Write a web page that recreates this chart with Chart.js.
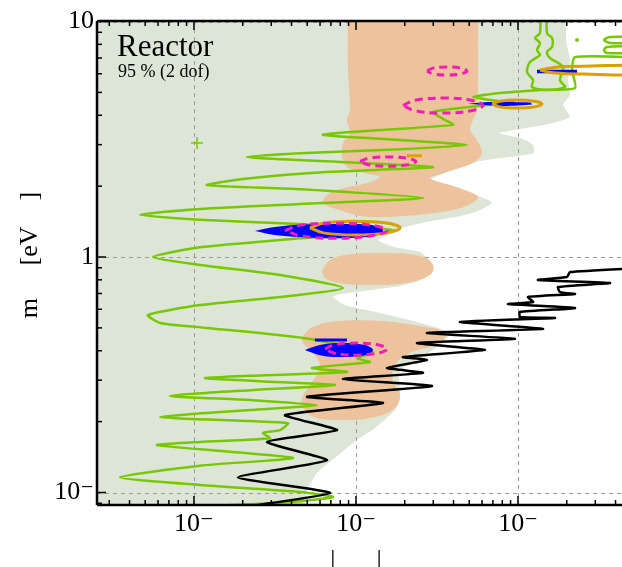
<!DOCTYPE html>
<html><head><meta charset="utf-8">
<script src="https://cdn.jsdelivr.net/npm/chart.js@4/dist/chart.umd.min.js"></script>
<style>html,body{margin:0;padding:0;background:#fff;overflow:hidden;} canvas{display:block;}</style>
</head><body>
<canvas id="c" width="622" height="567"></canvas>
<script>
// ---------- axes ----------
const xRange = [0.000252, 0.4385];
const yRange = [0.0885, 10.05];
const xTickValues = [1e-3, 1e-2, 1e-1];
const xTickLabels = ['10\u207B', '10\u207B', '10\u207B'];
const yTickValues = [0.1, 1, 10];
const yTickLabels = ['10\u207B', '1', '10'];
const xTitle = '|      \u200A|';
const yTitle = 'm     [eV    ]';
const panelTitle = 'Reactor';
const panelSubtitle = '95 % (2 dof)';

// ---------- regions / contours ([x, y]) ----------
const allowedRegion = [[0.2,11],[0.198,8.35],[0.209,6.87],[0.204,5.64],[0.209,4.87],[0.190,4.42],[0.209,3.93],[0.147,3.64],[0.0774,3.36],[0.103,3.20],[0.124,2.99],[0.124,2.76],[0.0774,2.63],[0.0506,2.51],[0.042,2.39],[0.033,2.23],[0.0286,2.12],[0.038,1.96],[0.0543,1.83],[0.0692,1.71],[0.0582,1.58],[0.0438,1.49],[0.0286,1.42],[0.0201,1.34],[0.0174,1.28],[0.0137,1.18],[0.0174,1.10],[0.0248,1.05],[0.0299,0.925],[0.0267,0.815],[0.0187,0.753],[0.00721,0.683],[0.00855,0.625],[0.0141,0.578],[0.0248,0.525],[0.038,0.476],[0.033,0.423],[0.0248,0.372],[0.0187,0.331],[0.0187,0.259],[0.0174,0.224],[0.0131,0.188],[0.0101,0.167],[0.00741,0.140],[0.00574,0.121],[0.00499,0.1025],[0.00464,0.0843],[0.0002,0.08],[0.0002,11],[0.2,11]];

const orangeBand = [[0.0089,11],[0.0089,9.5],[0.0089,8.2],[0.0089,6.87],[0.0090,5.6],[0.00918,4.21],[0.0088,3.82],[0.00918,3.36],[0.00831,3.05],[0.0082,2.66],[0.0088,2.41],[0.01137,2.27],[0.01406,2.19],[0.0117,2.06],[0.00796,1.94],[0.00662,1.83],[0.00625,1.69],[0.00796,1.58],[0.0117,1.48],[0.0248,1.51],[0.0438,1.61],[0.0558,1.75],[0.0558,1.83],[0.042,1.98],[0.0286,2.16],[0.0344,2.27],[0.0527,2.51],[0.0600,2.76],[0.0558,3.14],[0.0506,3.46],[0.0527,3.82],[0.0560,4.21],[0.0566,5.6],[0.0566,6.87],[0.0566,8.2],[0.0566,9.5],[0.0566,11],[0.0089,11]];
const orangeIsland1 = [[0.00617,0.881],[0.00692,0.97],[0.00855,1.02],[0.01406,1.04],[0.0248,1.01],[0.0299,0.925],[0.0286,0.839],[0.0201,0.776],[0.0122,0.760],[0.00796,0.776],[0.00644,0.815],[0.00617,0.881]];
const orangeIsland2 = [[0.0052,0.500],[0.00692,0.530],[0.01406,0.535],[0.0248,0.509],[0.0354,0.476],[0.033,0.431],[0.02154,0.391],[0.0174,0.348],[0.0169,0.300],[0.0187,0.259],[0.0174,0.229],[0.0131,0.209],[0.00796,0.203],[0.0052,0.213],[0.00464,0.247],[0.0052,0.286],[0.006,0.338],[0.00558,0.383],[0.00464,0.444],[0.0052,0.500]];

const greenContour = [[0.5,7.06],[0.2249,7.06],[0.2154,6.22],[0.2249,5.22],[0.1367,5.12],[0.0774,4.97],[0.0527,4.78],[0.0774,4.59],[0.0931,4.55],[0.0506,4.34],[0.0299,4.13],[0.0354,3.82],[0.0397,3.64],[0.01406,3.46],[0.00625,3.30],[0.0187,3.14],[0.0484,2.99],[0.0187,2.87],[0.00451,2.76],[0.00212,2.66],[0.00451,2.58],[0.0299,2.41],[0.00692,2.30],[0.00222,2.16],[0.0012,2.02],[0.00451,1.94],[0.0259,1.78],[0.00451,1.68],[0.00109,1.60],[0.000464,1.51],[0.00109,1.44],[0.00451,1.38],[0.0174,1.30],[0.00451,1.20],[0.00109,1.10],[0.000558,1.0],[0.00109,0.925],[0.0034,0.839],[0.00831,0.739],[0.0034,0.676],[0.00109,0.625],[0.00052,0.567],[0.000617,0.525],[0.0012,0.500],[0.00471,0.453],[0.01273,0.395],[0.01014,0.372],[0.0122,0.358],[0.00535,0.338],[0.0088,0.325],[0.00222,0.313],[0.00117,0.306],[0.00255,0.297],[0.00741,0.286],[0.00222,0.272],[0.000711,0.257],[0.00222,0.247],[0.00574,0.235],[0.00222,0.224],[0.000617,0.209],[0.00222,0.201],[0.0038,0.197],[0.0034,0.184],[0.00267,0.179],[0.00294,0.170],[0.00109,0.164],[0.000592,0.159],[0.00167,0.149],[0.00408,0.140],[0.00109,0.130],[0.000349,0.116],[0.00109,0.1076],[0.00451,0.1005],[0.00721,0.0957],[0.00392,0.0912],[0.00109,0.0877],[0.0002,0.086]];
const greenTube = [[0.1367,11],[0.1367,8.93],[0.1274,8.51],[0.1367,8.11],[0.131,7.57],[0.1367,7.21],[0.1186,6.73],[0.1137,6.10],[0.1239,5.64],[0.122,5.27],[0.153,5.12],[0.195,5.27],[0.1816,5.64],[0.1897,6.41],[0.1577,7.0],[0.151,7.42],[0.1622,7.80],[0.1622,8.51],[0.151,8.93],[0.151,11]];
const greenLoopA = [[0.566,8.59],[0.370,8.59],[0.3396,8.35],[0.370,8.11],[0.566,8.11]];
const greenLoopB = [[0.566,7.87],[0.354,7.80],[0.3396,7.57],[0.354,7.35],[0.566,7.35]];
const greenDot = [[0.2313,8.35]];
const bestFit = [[0.001044,3.05]];

const blackContour = [[0.00151,0.0843],[0.00692,0.0995],[0.00187,0.116],[0.00662,0.137],[0.00282,0.164],[0.00764,0.184],[0.00365,0.213],[0.01468,0.240],[0.00499,0.255],[0.02944,0.283],[0.00831,0.303],[0.0259,0.322],[0.01553,0.338],[0.02742,0.365],[0.0195,0.376],[0.0625,0.403],[0.0238,0.431],[0.0957,0.449],[0.02742,0.476],[0.1426,0.495],[0.0438,0.530],[0.169,0.551],[0.1028,0.556],[0.1028,0.584],[0.2249,0.607],[0.0867,0.631],[0.1239,0.644],[0.1153,0.676],[0.2249,0.696],[0.1816,0.710],[0.1766,0.746],[0.370,0.776],[0.1328,0.799],[0.2006,0.822],[0.2094,0.863],[0.566,0.898]];

const blueSliver1 = [[0.131,6.13],[0.2313,6.13]];
const blueIsland2 = [[0.0491,4.47],[0.0671,4.55],[0.1186,4.53],[0.122,4.44],[0.0774,4.38],[0.0491,4.47]];
const blueIsland3 = [[0.00238,1.29],[0.00316,1.34],[0.00451,1.37],[0.00796,1.38],[0.0122,1.37],[0.01468,1.30],[0.0131,1.23],[0.00796,1.20],[0.00451,1.215],[0.00316,1.24],[0.00238,1.29]];
const blueIsland4 = [[0.00484,0.403],[0.006,0.423],[0.00796,0.431],[0.01137,0.423],[0.01273,0.403],[0.01137,0.383],[0.00796,0.376],[0.006,0.383],[0.00484,0.403]];
const blueSliver5 = [[0.00558,0.444],[0.0088,0.444]];

const goldRing1 = [[0.1367,6.22],[0.17,6.40],[0.25,6.46],[0.7,6.46],[0.7,5.98],[0.25,5.98],[0.17,6.04],[0.1367,6.22]];
const goldRing2 = [[0.0692,4.47],[0.0769,4.59],[0.0986,4.64],[0.1265,4.59],[0.1406,4.47],[0.1265,4.34],[0.0986,4.29],[0.0769,4.34],[0.0692,4.47]];
const goldRing3 = [[0.0052,1.33],[0.0063,1.393],[0.00986,1.42],[0.01542,1.393],[0.0187,1.33],[0.01542,1.266],[0.00986,1.24],[0.0063,1.266],[0.0052,1.33]];
const goldDash4 = [[0.02065,2.69],[0.02554,2.69]];

const pinkRing1 = [[0.02742,6.16],[0.02985,6.34],[0.03648,6.41],[0.0445,6.34],[0.0484,6.16],[0.0445,6.00],[0.03648,5.93],[0.02985,6.00],[0.02742,6.16]];
const pinkRing2 = [[0.0195,4.40],[0.02313,4.63],[0.03444,4.73],[0.0513,4.63],[0.0608,4.40],[0.0513,4.18],[0.03444,4.09],[0.02313,4.18],[0.0195,4.40]];
const pinkRing3 = [[0.01059,2.544],[0.01193,2.624],[0.01577,2.66],[0.02082,2.624],[0.02345,2.544],[0.02082,2.467],[0.01577,2.43],[0.01193,2.467],[0.01059,2.544]];
const pinkRing4 = [[0.00365,1.296],[0.00453,1.364],[0.00753,1.39],[0.0125,1.364],[0.01553,1.296],[0.0125,1.231],[0.00753,1.20],[0.00453,1.231],[0.00365,1.296]];
const pinkRing5 = [[0.00644,0.4068],[0.00734,0.4238],[0.01,0.431],[0.01361,0.4238],[0.01553,0.4068],[0.01361,0.3904],[0.01,0.383],[0.00734,0.3904],[0.00644,0.4068]];

// ---------- styles ----------
const C = {gray:'#dde5d6', orange:'#ecc39c', green:'#78c800', black:'#000000', blue:'#0000ff', gold:'#d9a000', pink:'#f01eb4'};
const NONE = 'rgba(0,0,0,0)';
const SERIF = '"Liberation Serif", "DejaVu Serif", serif';

function area(data, color, order, tension) {
  return {type:'line', data, backgroundColor:color, borderColor:NONE, borderWidth:1, fill:'shape',
          pointRadius:0, tension:tension, order, clip:0};
}
function curve(data, color, width, order, tension, dash) {
  return {type:'line', data, borderColor:color, borderWidth:width, fill:false, pointRadius:0,
          tension:tension, order, clip:0, borderDash:dash || [], borderCapStyle:'butt', borderJoinStyle:'round'};
}

const datasets = [
  area(allowedRegion, C.gray, 30, 0.2),
  area(orangeBand, C.orange, 29, 0.3),
  area(orangeIsland1, C.orange, 29, 0.4),
  area(orangeIsland2, C.orange, 29, 0.4),
  curve(greenContour, C.green, 2.5, 20, 0.2),
  curve(greenTube, C.green, 2.5, 20, 0.3),
  curve(greenLoopA, C.green, 2.5, 20, 0.3),
  curve(greenLoopB, C.green, 2.5, 20, 0.3),
  {type:'line', data:greenDot, showLine:false, pointRadius:2, pointBackgroundColor:C.green, pointBorderWidth:0, order:20, clip:0},
  curve(blackContour, C.black, 2.5, 18, 0.15),
  area(blueIsland2, C.blue, 15, 0.3),
  area(blueIsland3, C.blue, 15, 0.35),
  area(blueIsland4, C.blue, 15, 0.35),
  curve(blueSliver1, C.blue, 3.5, 15, 0),
  curve(blueSliver5, C.blue, 3, 15, 0),
  curve(goldRing1, C.gold, 3, 12, 0.35),
  curve(goldRing2, C.gold, 3, 12, 0.4),
  curve(goldRing3, C.gold, 3, 12, 0.4),
  curve(goldDash4, C.gold, 3, 12, 0),
  curve(pinkRing1, C.pink, 3, 10, 0.4, [8,5]),
  curve(pinkRing2, C.pink, 3, 10, 0.4, [8,5]),
  curve(pinkRing3, C.pink, 3, 10, 0.4, [8,5]),
  curve(pinkRing4, C.pink, 3, 10, 0.4, [8,5]),
  curve(pinkRing5, C.pink, 3, 10, 0.4, [8,5]),
  {type:'line', data:bestFit, showLine:false, pointStyle:'cross', pointRadius:6, pointBorderColor:C.green, pointBorderWidth:1.5, order:5, clip:0}
];

// ---------- frame plugin (grid, axes, minor ticks, texts) ----------
function logTicks(min, max) {
  const out = [];
  for (let n = -5; n <= 2; n++) for (let k = 1; k <= 9; k++) {
    const v = k * Math.pow(10, n);
    if (v >= min * 0.999 && v <= max * 1.001) out.push({v, major: k === 1});
  }
  return out;
}
const framePlugin = {
  id: 'frame',
  afterDatasetDraw(chart, args) {
    if (args.index !== 0) return;
    const {ctx, chartArea: a, scales: {x, y}} = chart;
    ctx.save();
    ctx.beginPath(); ctx.rect(a.left, a.top, a.right - a.left, a.bottom - a.top); ctx.clip();
    ctx.strokeStyle = '#9c9c9c'; ctx.lineWidth = 1; ctx.setLineDash([4, 4]);
    xTickValues.forEach(v => { const p = Math.round(x.getPixelForValue(v)) + 0.5;
      ctx.beginPath(); ctx.moveTo(p, a.top); ctx.lineTo(p, a.bottom); ctx.stroke(); });
    yTickValues.forEach(v => { const p = Math.round(y.getPixelForValue(v)) + 0.5;
      ctx.beginPath(); ctx.moveTo(a.left, p); ctx.lineTo(a.right, p); ctx.stroke(); });
    ctx.restore();
  },
  afterDraw(chart) {
    const {ctx, chartArea: a, scales: {x, y}} = chart;
    ctx.save();
    ctx.strokeStyle = '#000'; ctx.lineWidth = 1.5; ctx.setLineDash([]);
    logTicks(xRange[0], xRange[1]).forEach(t => {
      const p = x.getPixelForValue(t.v); const L = t.major ? 9 : 5;
      ctx.beginPath(); ctx.moveTo(p, a.bottom); ctx.lineTo(p, a.bottom - L);
      ctx.moveTo(p, a.top); ctx.lineTo(p, a.top + L); ctx.stroke();
    });
    logTicks(yRange[0], yRange[1]).forEach(t => {
      const p = y.getPixelForValue(t.v); const L = t.major ? 9 : 5;
      ctx.beginPath(); ctx.moveTo(a.left, p); ctx.lineTo(a.left + L, p); ctx.stroke();
    });
    ctx.lineWidth = 2.5;
    ctx.beginPath();
    ctx.moveTo(a.left, a.top); ctx.lineTo(a.right + 2, a.top);
    ctx.moveTo(a.left, a.top); ctx.lineTo(a.left, a.bottom);
    ctx.moveTo(a.left, a.bottom); ctx.lineTo(a.right + 2, a.bottom);
    ctx.stroke();
    // texts
    ctx.fillStyle = '#000'; ctx.textAlign = 'left'; ctx.textBaseline = 'alphabetic';
    ctx.font = '31px ' + SERIF; ctx.fillText(panelTitle, 117, 56);
    ctx.font = '18px ' + SERIF; ctx.fillText(panelSubtitle, 118, 77);
    ctx.font = '26px ' + SERIF; ctx.textAlign = 'center';
    ctx.fillText(xTitle, x.getPixelForValue(1e-2), 567);
    ctx.translate(30, 255); ctx.rotate(-Math.PI / 2); ctx.textBaseline = 'middle';
    ctx.fillText(yTitle, 0, 0);
    ctx.restore();
  }
};

function fixX(s) { s.height = 62; s.paddingLeft = 0; s.paddingRight = 0; }
function fixY(s) { s.width = 97; s.paddingTop = 0; s.paddingBottom = 0; }

const chart = new Chart(document.getElementById('c'), {
  type: 'line',
  data: {datasets},
  options: {
    responsive: false, animation: false, devicePixelRatio: 1, events: [],
    layout: {padding: {top: 21, right: 0, left: 0, bottom: 0}, autoPadding: false},
    plugins: {legend: {display: false}, tooltip: {enabled: false}},
    scales: {
      x: {type: 'logarithmic', min: xRange[0], max: xRange[1],
          afterBuildTicks: s => { s.ticks = xTickValues.map(v => ({value: v})); },
          afterFit: fixX,
          grid: {display: false, drawTicks: false}, border: {display: false},
          ticks: {callback: (v, i) => xTickLabels[i], font: {family: SERIF, size: 26}, color: '#000', padding: 4, maxRotation: 0, autoSkip: false}},
      y: {type: 'logarithmic', min: yRange[0], max: yRange[1],
          afterBuildTicks: s => { s.ticks = yTickValues.map(v => ({value: v})); },
          afterFit: fixY,
          grid: {display: false, drawTicks: false}, border: {display: false},
          ticks: {callback: (v, i) => yTickLabels[i], font: {family: SERIF, size: 26}, color: '#000', padding: 3, autoSkip: false}}
    }
  },
  plugins: [framePlugin]
});
</script>
</body></html>
